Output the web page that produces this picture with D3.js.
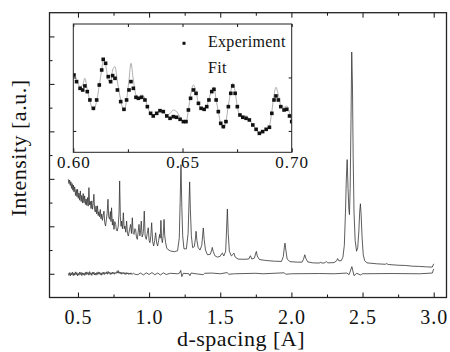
<!DOCTYPE html>
<html>
<head>
<meta charset="utf-8">
<script src="https://cdn.jsdelivr.net/npm/d3@7"></script>
<style>
  body { margin: 0; background: #fff; }
  svg { display: block; }
  svg text { font-family: "Liberation Serif", "Times New Roman", Times, "DejaVu Serif", serif; fill: #111; }
</style>
</head>
<body>
<div id="chart"></div>
<script>
// measured pattern: [d-spacing (A), intensity (a.u.)]
const pattern = [
  [0.432,3.98],[0.437,3.80],[0.441,3.95],[0.446,3.72],[0.450,3.88],[0.455,3.60],[0.459,3.80],[0.464,3.52],
  [0.468,3.74],[0.472,3.45],[0.477,3.66],[0.483,3.30],[0.488,3.55],[0.493,3.25],[0.497,3.56],[0.502,3.18],
  [0.507,3.40],[0.512,3.10],[0.517,3.49],[0.522,3.05],[0.527,3.30],[0.532,2.98],[0.537,3.38],[0.542,3.00],
  [0.547,3.28],[0.552,2.92],[0.557,3.15],[0.562,2.88],[0.567,3.21],[0.572,2.85],[0.577,3.63],[0.582,2.90],
  [0.587,3.05],[0.592,2.75],[0.597,3.07],[0.602,2.72],[0.607,2.95],[0.612,3.35],[0.617,2.70],[0.622,2.60],
  [0.627,2.86],[0.632,2.52],[0.637,2.86],[0.642,2.45],[0.647,2.62],[0.652,2.40],[0.657,2.71],[0.662,2.32],
  [0.667,2.52],[0.672,2.25],[0.677,2.45],[0.683,2.64],[0.688,2.15],[0.694,2.01],[0.700,2.30],[0.705,2.55],
  [0.711,3.14],[0.716,2.40],[0.722,2.30],[0.728,2.62],[0.732,2.20],[0.736,2.78],[0.742,2.05],[0.747,2.30],
  [0.753,1.87],[0.759,2.20],[0.765,2.08],[0.770,1.85],[0.776,1.80],[0.783,2.00],[0.789,2.60],[0.793,3.91],
  [0.798,2.40],[0.803,2.00],[0.807,2.22],[0.813,1.90],[0.819,2.57],[0.825,1.90],[0.830,2.01],[0.836,1.75],
  [0.842,2.22],[0.848,1.70],[0.854,1.59],[0.862,1.85],[0.870,2.08],[0.876,1.70],[0.882,2.36],[0.888,1.70],
  [0.894,1.66],[0.900,1.90],[0.905,1.87],[0.911,1.55],[0.917,1.45],[0.923,1.75],[0.929,2.08],[0.935,1.60],
  [0.940,1.80],[0.945,2.22],[0.951,1.55],[0.957,1.66],[0.961,1.90],[0.966,2.64],[0.972,1.60],[0.980,1.45],
  [0.987,1.70],[0.994,1.94],[1.000,1.40],[1.006,1.31],[1.012,1.60],[1.018,2.15],[1.025,1.35],[1.032,1.17],
  [1.039,1.40],[1.046,1.73],[1.053,1.30],[1.060,1.17],[1.067,1.40],[1.074,1.66],[1.078,1.50],[1.083,2.25],
  [1.088,1.50],[1.093,1.31],[1.099,1.60],[1.105,2.29],[1.110,1.60],[1.116,1.31],[1.124,1.08],[1.130,1.03],
  [1.151,0.96],[1.177,0.93],[1.200,0.97],[1.212,1.50],[1.218,3.00],[1.224,4.60],[1.230,2.80],
  [1.236,1.60],[1.245,1.05],[1.262,1.05],[1.274,1.70],[1.280,2.90],[1.285,3.87],[1.290,2.70],[1.297,1.60],
  [1.306,1.10],[1.318,1.15],[1.326,1.50],[1.330,1.79],[1.336,1.40],[1.345,1.10],[1.358,1.00],[1.370,1.20],
  [1.376,1.60],[1.381,1.93],[1.387,1.45],[1.396,1.00],[1.410,0.80],[1.430,0.82],[1.440,1.00],[1.444,1.11],
  [1.450,0.95],[1.462,0.76],[1.480,0.70],[1.500,0.74],[1.510,0.85],[1.515,0.87],[1.525,0.75],[1.538,0.95],
  [1.544,1.80],[1.550,2.73],[1.556,1.70],[1.564,0.95],[1.578,0.75],[1.590,0.82],[1.596,0.87],[1.605,0.70],
  [1.625,0.62],[1.660,0.61],[1.700,0.62],[1.712,0.76],[1.722,0.62],[1.740,0.66],[1.750,0.88],[1.754,0.94],
  [1.760,0.75],[1.775,0.60],[1.820,0.56],[1.880,0.53],[1.930,0.52],[1.943,0.72],[1.950,1.10],[1.955,1.29],
  [1.961,1.00],[1.970,0.62],[1.990,0.51],[2.040,0.49],[2.075,0.49],[2.086,0.63],[2.094,0.80],[2.102,0.64],
  [2.115,0.50],[2.150,0.46],[2.198,0.45],[2.205,0.50],[2.212,0.45],[2.235,0.46],[2.245,0.52],[2.255,0.46],
  [2.300,0.47],[2.318,0.55],[2.325,0.64],[2.333,0.55],[2.350,0.55],[2.362,0.70],[2.372,1.20],[2.380,2.60],
  [2.386,4.00],[2.392,4.81],[2.398,3.60],[2.404,2.70],[2.408,2.49],[2.413,3.60],[2.419,6.50],[2.424,9.34],
  [2.429,8.00],[2.434,5.00],[2.440,2.60],[2.448,1.40],[2.458,0.95],[2.466,1.10],[2.474,1.80],[2.480,2.60],
  [2.485,2.95],[2.490,2.50],[2.497,1.50],[2.505,0.80],[2.515,0.55],[2.530,0.46],[2.600,0.42],[2.660,0.40],
  [2.670,0.43],[2.680,0.39],[2.750,0.36],[2.800,0.35],[2.850,0.32],[2.900,0.31],[2.950,0.29],[2.990,0.28],
  [3.000,0.42]
];

// difference curve: [d-spacing (A), intensity (a.u.)]
const residual = [
  [0.432,0.02],[0.437,-0.07],[0.442,0.05],[0.447,-0.09],[0.452,0.04],[0.457,-0.05],[0.462,0.07],[0.467,-0.08],
  [0.472,0.03],[0.477,-0.06],[0.482,0.08],[0.487,-0.04],[0.492,0.05],[0.497,-0.09],[0.502,0.02],[0.507,-0.06],
  [0.512,0.07],[0.517,-0.03],[0.522,0.06],[0.527,-0.08],[0.532,0.04],[0.537,-0.05],[0.542,0.03],[0.547,-0.07],
  [0.552,0.06],[0.557,-0.04],[0.562,0.08],[0.567,-0.02],[0.572,0.05],[0.577,-0.06],[0.582,0.09],[0.587,-0.03],
  [0.592,0.04],[0.597,-0.07],[0.602,0.06],[0.607,-0.02],[0.612,0.07],[0.617,-0.05],[0.622,0.03],[0.627,-0.06],
  [0.632,0.05],[0.637,-0.03],[0.642,0.08],[0.647,-0.02],[0.652,0.06],[0.657,-0.04],[0.662,0.04],[0.667,-0.06],
  [0.672,0.05],[0.677,-0.02],[0.682,0.07],[0.687,-0.03],[0.692,0.05],[0.697,0.00],[0.702,0.08],[0.707,-0.02],
  [0.712,0.10],[0.717,0.01],[0.722,0.06],[0.727,-0.03],[0.732,0.05],[0.737,-0.02],[0.742,0.07],[0.747,0.00],
  [0.752,0.06],[0.757,-0.02],[0.762,0.05],[0.767,0.01],[0.772,0.09],[0.777,0.03],[0.782,0.14],[0.787,0.02],
  [0.792,0.08],[0.797,0.00],[0.802,0.07],[0.807,-0.02],[0.812,0.05],[0.817,0.00],[0.822,0.06],[0.827,-0.02],
  [0.832,0.04],[0.837,-0.03],[0.842,0.05],[0.847,-0.01],[0.852,0.04],[0.857,-0.03],[0.862,0.03],[0.867,-0.02],
  [0.872,0.04],[0.880,-0.03],[0.890,0.03],[0.900,-0.02],
  [0.920,-0.04],[0.940,0.03],[0.960,-0.05],[0.980,0.04],[1.000,-0.03],[1.020,0.05],[1.040,-0.04],[1.060,0.03],
  [1.080,-0.05],[1.100,0.04],[1.120,-0.03],[1.150,0.02],[1.200,0.00],[1.215,0.03],[1.222,0.14],[1.230,-0.12],
  [1.240,0.02],[1.280,0.00],[1.287,-0.08],[1.295,0.03],[1.330,0.00],[1.380,-0.04],[1.390,0.02],[1.440,0.03],
  [1.500,0.00],[1.548,0.05],[1.560,-0.02],[1.600,0.00],[1.750,0.02],[1.800,0.00],[1.950,0.04],[1.960,-0.02],
  [2.000,0.00],[2.200,0.01],[2.300,0.00],[2.390,0.03],[2.405,-0.04],[2.425,0.30],[2.440,-0.08],[2.460,0.02],
  [2.485,-0.05],[2.500,0.00],[2.700,0.01],[2.900,0.00],[2.990,0.03],[3.000,0.20]
];

// inset: experiment points [d, intensity]
const insetExp = [
  [0.6003,2.046],[0.6015,1.922],[0.6031,1.797],[0.6043,1.766],[0.6053,1.841],[0.6064,1.735],[0.6076,1.579],
  [0.6092,1.423],[0.6107,1.579],[0.6119,1.859],[0.6130,2.140],[0.6137,2.339],[0.6148,2.265],[0.6160,2.015],
  [0.6171,1.922],[0.6180,2.034],[0.6191,1.984],[0.6202,1.766],[0.6217,1.548],[0.6232,1.404],[0.6244,1.579],
  [0.6255,1.766],[0.6264,1.922],[0.6275,1.797],[0.6287,1.629],[0.6298,1.610],[0.6313,1.629],[0.6328,1.579],
  [0.6339,1.454],[0.6354,1.329],[0.6366,1.280],[0.6382,1.329],[0.6397,1.379],[0.6412,1.361],[0.6428,1.280],
  [0.6443,1.236],[0.6458,1.267],[0.6473,1.255],[0.6489,1.217],[0.6504,1.174],[0.6516,1.174],[0.6527,1.392],
  [0.6537,1.610],[0.6550,1.766],[0.6562,1.703],[0.6573,1.516],[0.6585,1.423],[0.6599,1.404],[0.6611,1.454],
  [0.6621,1.579],[0.6634,1.735],[0.6644,1.778],[0.6654,1.579],[0.6664,1.361],[0.6675,1.142],[0.6687,1.080],
  [0.6699,1.174],[0.6710,1.454],[0.6721,1.703],[0.6730,1.841],[0.6741,1.703],[0.6751,1.454],[0.6763,1.298],
  [0.6776,1.255],[0.6791,1.236],[0.6806,1.205],[0.6822,1.111],[0.6837,1.030],[0.6852,0.955],[0.6867,0.987],
  [0.6883,1.030],[0.6898,1.068],[0.6909,1.329],[0.6919,1.579],[0.6928,1.654],[0.6939,1.579],[0.6950,1.454],
  [0.6965,1.392],[0.6977,1.404],[0.6990,1.280],[0.7000,1.174]
];

// inset: fitted profile [d, intensity]
const insetFit = [
  [0.6003,2.046],[0.6015,1.950],[0.6031,1.830],[0.6043,1.859],[0.6053,1.984],[0.6064,1.766],[0.6076,1.560],
  [0.6092,1.392],[0.6107,1.560],[0.6119,1.850],[0.6130,2.140],[0.6137,2.327],[0.6148,2.233],[0.6160,1.953],
  [0.6171,1.890],[0.6180,2.140],[0.6191,2.202],[0.6202,1.922],[0.6217,1.579],[0.6232,1.379],[0.6244,1.579],
  [0.6255,1.953],[0.6264,2.265],[0.6275,1.953],[0.6287,1.672],[0.6298,1.629],[0.6313,1.672],[0.6328,1.610],
  [0.6339,1.454],[0.6354,1.329],[0.6366,1.290],[0.6382,1.340],[0.6397,1.379],[0.6412,1.361],[0.6428,1.290],
  [0.6443,1.329],[0.6458,1.392],[0.6473,1.361],[0.6489,1.255],[0.6504,1.174],[0.6516,1.155],[0.6527,1.392],
  [0.6537,1.672],[0.6550,1.859],[0.6562,1.735],[0.6573,1.516],[0.6585,1.423],[0.6599,1.404],[0.6611,1.454],
  [0.6621,1.600],[0.6634,1.766],[0.6644,1.816],[0.6654,1.579],[0.6664,1.361],[0.6675,1.130],[0.6687,1.049],
  [0.6699,1.174],[0.6710,1.480],[0.6721,1.735],[0.6730,1.890],[0.6741,1.735],[0.6751,1.454],[0.6763,1.298],
  [0.6776,1.280],[0.6791,1.280],[0.6806,1.217],[0.6822,1.111],[0.6837,1.030],[0.6852,0.943],[0.6867,0.987],
  [0.6883,1.030],[0.6898,1.100],[0.6909,1.360],[0.6919,1.672],[0.6928,1.816],[0.6939,1.672],[0.6950,1.480],
  [0.6965,1.442],[0.6977,1.467],[0.6990,1.340],[0.7000,1.174]
];

const xMajor = [0.5, 1.0, 1.5, 2.0, 2.5, 3.0];
const xMinor = [0.75, 1.25, 1.75, 2.25, 2.75];
const yMajor = [0, 2, 4, 6, 8, 10];
const yMinor = [1, 3, 5, 7, 9];
const insetXMajor = [0.60, 0.65, 0.70];
const insetXMinor = [0.625, 0.675];
const insetYTicks = [1, 2];
const legendLabels = ['Experiment', 'Fit'];

const serif = '"Liberation Serif", "Times New Roman", Times, "DejaVu Serif", serif';
const width = 450, height = 352;
const plot = { left: 49.5, right: 446.5, top: 12.7, bottom: 297.5 };
const box = { left: 73.3, right: 291.7, top: 24, bottom: 152.3 };

const svg = d3.select('#chart').append('svg')
  .attr('width', width)
  .attr('height', height)
  .attr('font-family', serif);

const x = d3.scaleLinear().domain([0.3, 3.09]).range([plot.left, plot.right]);
const y = d3.scaleLinear().domain([-1, 11]).range([plot.bottom, plot.top]);

svg.append('clipPath').attr('id', 'clipMain')
  .append('rect')
  .attr('x', plot.left).attr('y', plot.top)
  .attr('width', plot.right - plot.left).attr('height', plot.bottom - plot.top);

const line = d3.line().x(d => x(d[0])).y(d => y(d[1]));

const curves = svg.append('g').attr('clip-path', 'url(#clipMain)');
curves.append('path').datum(pattern)
  .attr('fill', 'none').attr('stroke', '#333').attr('stroke-width', 0.8)
  .attr('stroke-linejoin', 'round')
  .attr('d', line);
curves.append('path').datum(residual)
  .attr('fill', 'none').attr('stroke', '#333').attr('stroke-width', 0.8)
  .attr('stroke-linejoin', 'round')
  .attr('d', line);

function ticks(g) {
  g.attr('font-family', serif);
  g.select('.domain').remove();
  g.selectAll('line').attr('stroke', '#111').attr('stroke-width', 1);
}

// main axes, ticks pointing inward
svg.append('g').attr('transform', `translate(0,${plot.bottom})`)
  .call(d3.axisBottom(x).tickValues(xMajor).tickSizeInner(-5).tickSizeOuter(0).tickFormat(d3.format('.1f')))
  .call(ticks)
  .call(g => g.selectAll('text')
    .attr('y', 26).attr('dy', null)
    .style('font-size', '20px').style('letter-spacing', '1px')
    .style('font-family', serif).attr('fill', '#111'));
svg.append('g').attr('transform', `translate(0,${plot.bottom})`)
  .call(d3.axisBottom(x).tickValues(xMinor).tickSizeInner(-3).tickSizeOuter(0).tickFormat(''))
  .call(ticks);
svg.append('g').attr('transform', `translate(0,${plot.top})`)
  .call(d3.axisTop(x).tickValues(xMajor).tickSizeInner(-5).tickSizeOuter(0).tickFormat(''))
  .call(ticks);
svg.append('g').attr('transform', `translate(0,${plot.top})`)
  .call(d3.axisTop(x).tickValues(xMinor).tickSizeInner(-3).tickSizeOuter(0).tickFormat(''))
  .call(ticks);
svg.append('g').attr('transform', `translate(${plot.left},0)`)
  .call(d3.axisLeft(y).tickValues(yMajor).tickSizeInner(-5).tickSizeOuter(0).tickFormat(''))
  .call(ticks);
svg.append('g').attr('transform', `translate(${plot.left},0)`)
  .call(d3.axisLeft(y).tickValues(yMinor).tickSizeInner(-3).tickSizeOuter(0).tickFormat(''))
  .call(ticks);

svg.append('rect')
  .attr('x', plot.left).attr('y', plot.top)
  .attr('width', plot.right - plot.left).attr('height', plot.bottom - plot.top)
  .attr('fill', 'none').attr('stroke', '#222').attr('stroke-width', 1.3);

svg.append('text')
  .attr('x', 241).attr('y', 346)
  .attr('text-anchor', 'middle')
  .style('font-family', serif)
  .style('font-size', '22px').style('letter-spacing', '0.5px')
  .text('d-spacing [A]');

svg.append('text')
  .attr('transform', 'translate(26,148) rotate(-90)')
  .attr('text-anchor', 'middle')
  .style('font-family', serif)
  .style('font-size', '22px').style('letter-spacing', '0.5px')
  .text('Intensity [a.u.]');

// inset
const xi = d3.scaleLinear().domain([0.6, 0.7]).range([box.left, box.right]);
const yi = d3.scaleLinear().domain([0.6, 3.0]).range([box.bottom, box.top]);

svg.append('rect')
  .attr('x', box.left).attr('y', box.top)
  .attr('width', box.right - box.left).attr('height', box.bottom - box.top)
  .attr('fill', '#fff');

svg.append('clipPath').attr('id', 'clipInset')
  .append('rect')
  .attr('x', box.left).attr('y', box.top)
  .attr('width', box.right - box.left).attr('height', box.bottom - box.top);

const inset = svg.append('g').attr('clip-path', 'url(#clipInset)');
inset.append('path').datum(insetFit)
  .attr('fill', 'none').attr('stroke', '#9a9a9a').attr('stroke-width', 0.8)
  .attr('d', d3.line().curve(d3.curveMonotoneX).x(d => xi(d[0])).y(d => yi(d[1])));
inset.selectAll('rect.pt').data(insetExp).join('rect')
  .attr('class', 'pt')
  .attr('x', d => xi(d[0]) - 1.8).attr('y', d => yi(d[1]) - 1.8)
  .attr('width', 3.6).attr('height', 3.6)
  .attr('fill', '#111');

svg.append('g').attr('transform', `translate(0,${box.bottom})`)
  .call(d3.axisBottom(xi).tickValues(insetXMajor).tickSizeInner(-4).tickSizeOuter(0).tickFormat(d3.format('.2f')))
  .call(ticks)
  .call(g => g.selectAll('text')
    .attr('y', 16).attr('dy', null)
    .style('font-size', '17px').style('letter-spacing', '1px')
    .style('font-family', serif).attr('fill', '#111'));
svg.append('g').attr('transform', `translate(0,${box.bottom})`)
  .call(d3.axisBottom(xi).tickValues(insetXMinor).tickSizeInner(-3).tickSizeOuter(0).tickFormat(''))
  .call(ticks);
svg.append('g').attr('transform', `translate(0,${box.top})`)
  .call(d3.axisTop(xi).tickValues(insetXMajor.concat(insetXMinor)).tickSizeInner(-3).tickSizeOuter(0).tickFormat(''))
  .call(ticks);
svg.append('g').attr('transform', `translate(${box.left},0)`)
  .call(d3.axisLeft(yi).tickValues(insetYTicks).tickSizeInner(-3).tickSizeOuter(0).tickFormat(''))
  .call(ticks);
svg.append('g').attr('transform', `translate(${box.right},0)`)
  .call(d3.axisRight(yi).tickValues(insetYTicks).tickSizeInner(-3).tickSizeOuter(0).tickFormat(''))
  .call(ticks);

svg.append('rect')
  .attr('x', box.left).attr('y', box.top)
  .attr('width', box.right - box.left).attr('height', box.bottom - box.top)
  .attr('fill', 'none').attr('stroke', '#222').attr('stroke-width', 1);

// legend
const legend = svg.append('g');
legend.append('rect')
  .attr('x', 182.5).attr('y', 41.8).attr('width', 3).attr('height', 3)
  .attr('fill', '#111');
legend.selectAll('text.lg').data(legendLabels).join('text')
  .attr('class', 'lg')
  .attr('x', 208).attr('y', (d, i) => 47.3 + i * 26)
  .style('font-family', serif)
  .style('font-size', '16px').style('letter-spacing', '0.3px')
  .text(d => d);
</script>
</body>
</html>
